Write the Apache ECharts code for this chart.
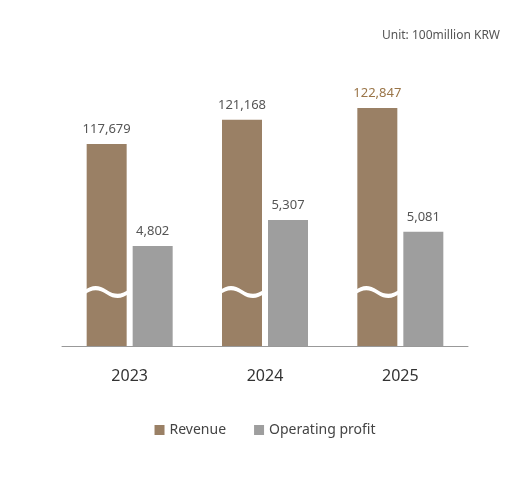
<!DOCTYPE html>
<html><head><meta charset="utf-8">
<script src="https://cdn.jsdelivr.net/npm/echarts@6/dist/echarts.min.js"></script>
<style>html,body{margin:0;padding:0;background:#fff}#c{width:530px;height:484px}</style>
</head><body><div id="c"></div>
<script>
const categories = ['2023', '2024', '2025'];
const revenue = [117679, 121168, 122847];
const profit = [4802, 5307, 5081];
const breakLevel = 96430;

const chart = echarts.init(document.getElementById('c'));
const wave = 'path://M0,6 C8,0 14,0 22,5 C30,10 36,10 44,4 L44,8 C36,14 30,14 22,9 C14,4 8,4 0,10 Z';
chart.setOption({
  animation: false,
  textStyle: { fontFamily: 'Noto Sans' },
  graphic: [{ type: 'text', right: 30, top: 30, style: { text: 'Unit: 100million KRW', fill: '#555', font: '12px Noto Sans' } }],
  legend: {
    bottom: 42, left: 'center', itemWidth: 10, itemHeight: 10, itemGap: 28, icon: 'rect',
    textStyle: { fontSize: 14, color: '#444' },
    data: ['Revenue', 'Operating profit']
  },
  grid: { left: 62, right: 62, top: 46, bottom: 138 },
  xAxis: {
    type: 'category', data: categories,
    axisLine: { lineStyle: { color: '#999' } }, axisTick: { show: false },
    axisLabel: { fontSize: 16, color: '#333', margin: 22 }
  },
  yAxis: [
    { type: 'value', min: 88680, max: 131750, show: false },
    { type: 'value', min: 2860, max: 8690, show: false }
  ],
  series: [
    {
      name: 'Revenue', type: 'bar', yAxisIndex: 0, barWidth: 40, barGap: '15%',
      itemStyle: { color: '#9a8065' },
      data: revenue.map((v, i) => ({ value: v, label: { color: i === 2 ? '#9a7548' : '#555' } })),
      label: { show: true, position: 'top', fontSize: 13, distance: 8,
        formatter: p => p.value.toLocaleString('en-US') },
      markPoint: {
        symbol: wave, symbolSize: [46, 12], silent: true, label: { show: false },
        itemStyle: { color: '#fff' },
        data: categories.map(c => ({ coord: [c, breakLevel] }))
      }
    },
    {
      name: 'Operating profit', type: 'bar', yAxisIndex: 1, barWidth: 40,
      itemStyle: { color: '#9e9e9e' },
      data: profit,
      label: { show: true, position: 'top', fontSize: 13, distance: 8, color: '#555',
        formatter: p => p.value.toLocaleString('en-US') }
    }
  ]
});
</script></body></html>
